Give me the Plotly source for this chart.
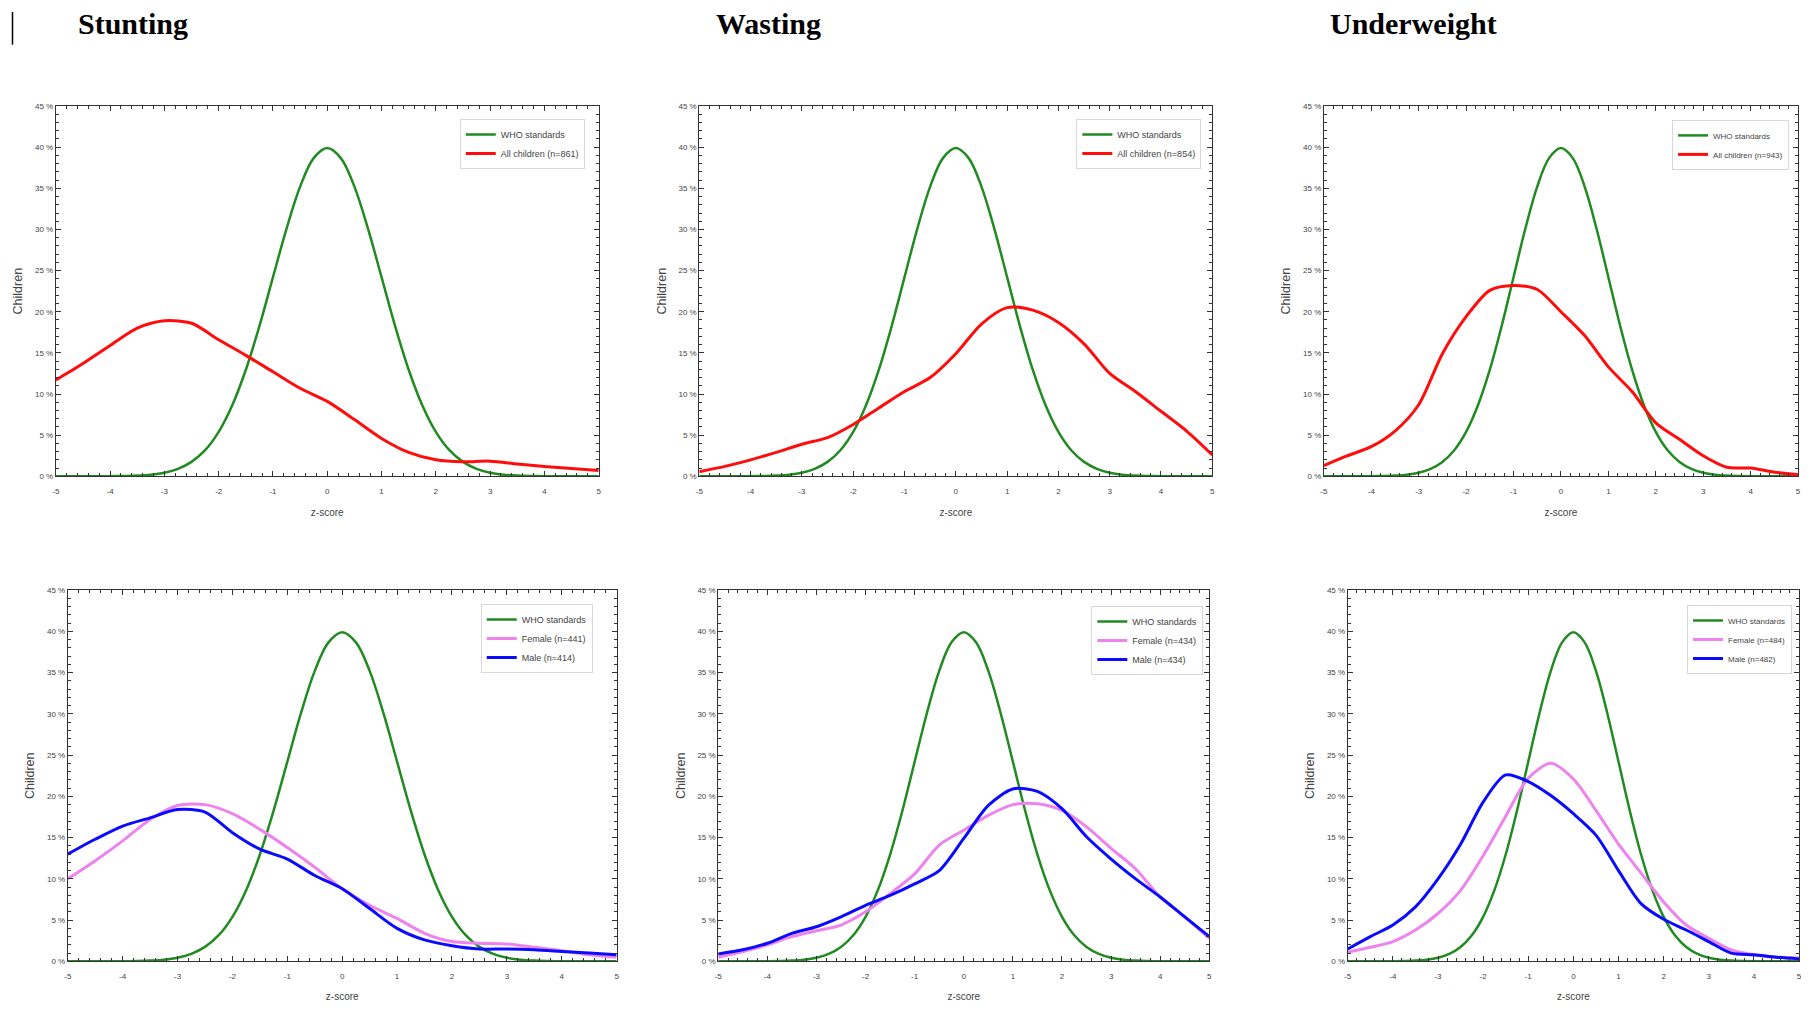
import plotly.graph_objects as go

# ---------------- data ----------------
Z_WHO = [-5, -4.75, -4.5, -4.25, -4, -3.75, -3.5, -3.25, -3, -2.75, -2.5, -2.25, -2, -1.75, -1.5, -1.25, -1,
         -0.75, -0.5, -0.25, 0, 0.25, 0.5, 0.75, 1, 1.25, 1.5, 1.75, 2, 2.25, 2.5, 2.75, 3, 3.25, 3.5, 3.75,
         4, 4.25, 4.5, 4.75, 5]
WHO = [0, 0, 0, 0, 0.01, 0.04, 0.09, 0.2, 0.44, 0.91, 1.75, 3.17, 5.4, 8.63, 12.95, 18.26, 24.2,
       30.11, 35.21, 38.67, 39.89, 38.67, 35.21, 30.11, 24.2, 18.26, 12.95, 8.63, 5.4, 3.17, 1.75, 0.91,
       0.44, 0.2, 0.09, 0.04, 0.01, 0, 0, 0, 0]

Z = [-5, -4.5, -4, -3.5, -3, -2.5, -2, -1.5, -1, -0.5, 0, 0.5, 1, 1.5, 2, 2.5, 3, 3.5, 4, 4.5, 5]

stunting_all = [11.7, 13.7, 15.9, 18.0, 18.9, 18.6, 16.6, 14.7, 12.7, 10.7, 9.1, 6.9, 4.6, 2.9, 2.0, 1.76,
                1.84, 1.5, 1.2, 0.95, 0.7]
wasting_all = [0.56, 1.2, 2.0, 2.9, 3.9, 4.7, 6.3, 8.3, 10.3, 12.0, 14.9, 18.5, 20.5, 20.2, 18.7, 16.1,
               12.5, 10.3, 7.9, 5.5, 2.6]
underweight_all = [1.3, 2.5, 3.6, 5.5, 8.7, 14.9, 19.4, 22.6, 23.2, 22.7, 20.0, 17.1, 13.3, 10.3, 6.5,
                   4.5, 2.5, 1.1, 1.0, 0.5, 0.2]

stunting_female = [10.0, 12.2, 14.6, 17.2, 18.9, 19.0, 17.9, 16.0, 13.8, 11.4, 8.8, 6.8, 5.2, 3.4, 2.4,
                   2.2, 2.1, 1.7, 1.3, 0.8, 0.5]
stunting_male = [13.0, 14.8, 16.4, 17.4, 18.4, 18.1, 15.6, 13.6, 12.4, 10.4, 8.8, 6.4, 4.0, 2.6, 1.9,
                 1.5, 1.5, 1.4, 1.2, 1.0, 0.8]
wasting_female = [0.5, 1.2, 2.0, 3.0, 3.7, 4.4, 6.0, 8.2, 10.6, 14.1, 15.9, 17.7, 19.0, 19.1, 18.3,
                  16.3, 13.7, 11.2, 7.8, 5.4, 2.8]
wasting_male = [0.9, 1.4, 2.2, 3.4, 4.2, 5.4, 6.8, 8.0, 9.4, 11.0, 14.9, 18.9, 20.9, 20.6, 18.5, 15.1,
                12.4, 10.0, 7.8, 5.4, 3.0]
underweight_female = [1.1, 1.7, 2.4, 3.8, 5.8, 8.6, 12.8, 17.6, 22.2, 24.0, 22.1, 18.3, 14.2, 10.7, 7.2,
                      4.4, 2.8, 1.4, 0.8, 0.5, 0.4]
underweight_male = [1.5, 3.0, 4.4, 6.6, 10.0, 14.2, 19.3, 22.6, 21.8, 20.1, 17.9, 15.3, 11.0, 7.0, 5.1,
                    3.8, 2.4, 1.0, 0.8, 0.5, 0.3]

TITLES = ["Stunting", "Wasting", "Underweight"]
N_ALL = ["All children (n=861)", "All children (n=854)", "All children (n=943)"]
N_FEMALE = ["Female (n=441)", "Female (n=434)", "Female (n=484)"]
N_MALE = ["Male (n=414)", "Male (n=434)", "Male (n=482)"]
X_TICKS = [-5, -4, -3, -2, -1, 0, 1, 2, 3, 4, 5]
X_LABELS = ["-5", "-4", "-3", "-2", "-1", "0", "1", "2", "3", "4", "5"]
Y_TICKS = [0, 5, 10, 15, 20, 25, 30, 35, 40, 45]
Y_LABELS = ["0 %", "5 %", "10 %", "15 %", "20 %", "25 %", "30 %", "35 %", "40 %", "45 %"]

# ---------------- style ----------------
OFF = 8                      # page body margin
W, H = 1811 - 2 * OFF, 1010 - 2 * OFF
GREEN = "#218a21"
RED = "#ff0d0d"
VIOLET = "#ee82ee"
BLUE = "#0a0aff"

def px_x(v):
    return min(max((v - OFF) / W, 0), 1)

def px_y(v):
    return min(max(1 - (v - OFF) / H, 0), 1)

# panel geometry in reference pixels (left, right, top, bottom)
PANELS = [
    (52, 597, 103, 477),
    (698, 1213, 103, 477),
    (1325, 1801, 103, 477),
    (64, 615, 592, 967),
    (717, 1210, 592, 967),
    (1349, 1802, 592, 967),
]
LEGENDS = [  # right, top (ref px), font size
    (583, 116, 9), (1202, 116, 9), (1792, 117, 8),
    (591, 606, 9), (1204, 608, 9), (1795, 607, 8),
]

fig = go.Figure()

series = [
    [(N_ALL[0], stunting_all, RED)],
    [(N_ALL[1], wasting_all, RED)],
    [(N_ALL[2], underweight_all, RED)],
    [(N_FEMALE[0], stunting_female, VIOLET), (N_MALE[0], stunting_male, BLUE)],
    [(N_FEMALE[1], wasting_female, VIOLET), (N_MALE[1], wasting_male, BLUE)],
    [(N_FEMALE[2], underweight_female, VIOLET), (N_MALE[2], underweight_male, BLUE)],
]

layout = dict(
    width=W, height=H, margin=dict(l=0, r=0, t=0, b=0),
    paper_bgcolor="white", plot_bgcolor="white",
    font=dict(family="Liberation Sans, Arial", color="#444"),
)

for i, (l, r, t, b) in enumerate(PANELS):
    k = i + 1
    xa = "x" if k == 1 else f"x{k}"
    ya = "y" if k == 1 else f"y{k}"
    lg = "legend" if k == 1 else f"legend{k}"
    fig.add_trace(go.Scatter(x=Z_WHO, y=WHO, mode="lines", name="WHO standards",
                             line=dict(color=GREEN, width=2.5, shape="spline"),
                             xaxis=xa, yaxis=ya, legend=lg))
    for name, vals, col in series[i]:
        fig.add_trace(go.Scatter(x=Z, y=vals, mode="lines", name=name,
                                 line=dict(color=col, width=3, shape="spline", smoothing=0.8),
                                 xaxis=xa, yaxis=ya, legend=lg))
    axcommon = dict(showline=True, linecolor="#333", linewidth=1, mirror="allticks",
                    ticks="inside", ticklen=5, tickcolor="#333", showgrid=False, zeroline=False,
                    tickfont=dict(size=8, color="#444"))
    layout["xaxis" if k == 1 else f"xaxis{k}"] = dict(
        domain=[px_x(l), px_x(r)], anchor=ya, range=[-5, 5],
        tickmode="array", tickvals=X_TICKS, ticktext=X_LABELS,
        minor=dict(ticks="inside", ticklen=3, dtick=0.2, tickcolor="#333"),
        title=dict(text="z-score", font=dict(size=10, color="#444"), standoff=14),
        ticklabelstandoff=7, **axcommon)
    layout["yaxis" if k == 1 else f"yaxis{k}"] = dict(
        domain=[px_y(b), px_y(t)], anchor=xa, range=[0, 45],
        tickmode="array", tickvals=Y_TICKS, ticktext=Y_LABELS,
        minor=dict(ticks="inside", ticklen=3, dtick=1, tickcolor="#333"),
        title=dict(text="Children", font=dict(size=12.5, color="#444"), standoff=9),
        **axcommon)
    lr, lt, lf = LEGENDS[i]
    layout[lg] = dict(x=px_x(lr), y=px_y(lt), xanchor="right", yanchor="top",
                      bgcolor="white", bordercolor="#d8d8d8", borderwidth=1,
                      font=dict(size=lf, color="#444"), itemwidth=30, tracegroupgap=0)

fig.update_layout(**layout)

for txt, xp in zip(TITLES, [72, 713, 1329]):
    fig.add_annotation(text="<b>" + txt + "</b>", x=px_x(xp), y=px_y(20), xref="paper", yref="paper",
                       xanchor="left", yanchor="middle", showarrow=False,
                       font=dict(family="Liberation Serif, Times New Roman", size=30, color="black"))

fig.add_shape(type="line", xref="paper", yref="paper", x0=px_x(8.5), x1=px_x(8.5), y0=px_y(8), y1=px_y(41),
              line=dict(color="black", width=1.5))

fig.write_html("out.html")
